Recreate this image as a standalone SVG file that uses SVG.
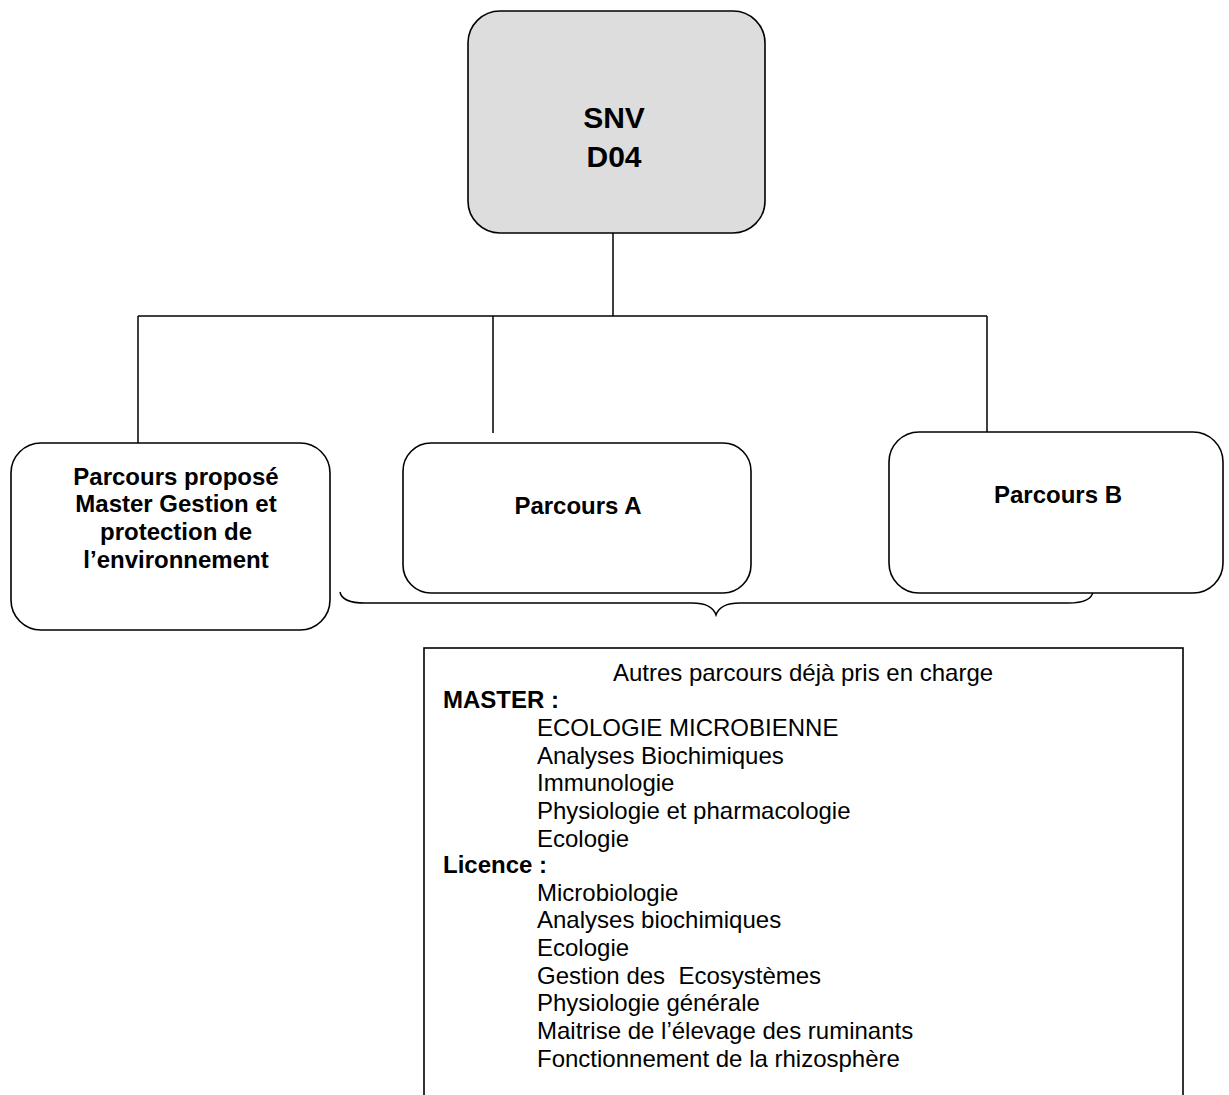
<svg xmlns="http://www.w3.org/2000/svg" width="1229" height="1095" viewBox="0 0 1229 1095">
<style>
.box{fill:#ffffff;stroke:#000;stroke-width:1.6}
.root{fill:#dddddd;stroke:#000;stroke-width:1.6}
.conn{fill:none;stroke:#000;stroke-width:1.5}
.b{font-family:"Liberation Sans",Arial,sans-serif;font-weight:bold;font-size:24px;fill:#000}
.r{font-family:"Liberation Sans",Arial,sans-serif;font-size:24px;fill:#000}
.big{font-size:30px}
</style>
<rect width="1229" height="1095" fill="#fff"/>
<g id="connectors">
<line class="conn" x1="613" y1="233" x2="613" y2="316"/>
<line class="conn" x1="138" y1="316" x2="987" y2="316"/>
<line class="conn" x1="138" y1="316" x2="138" y2="444"/>
<line class="conn" x1="493" y1="316" x2="493" y2="433"/>
<line class="conn" x1="987" y1="316" x2="987" y2="432"/>
<path class="conn" d="M340,592 Q342,603 365,603 L692,603 Q712,603 716,615 Q720,603 740,603 L1068,603 Q1092,603 1093,591"/>
</g>
<g id="snv">
<rect class="root" x="468" y="11" width="297" height="222" rx="32" ry="32"/>
<text class="b big" x="614" y="128" text-anchor="middle">SNV</text>
<text class="b big" x="614" y="167" text-anchor="middle">D04</text>
</g>
<g id="parcours-propose">
<rect class="box" x="11" y="443" width="319" height="187" rx="30" ry="30"/>
<text class="b" x="176" y="485" text-anchor="middle">Parcours proposé</text>
<text class="b" x="176" y="512" text-anchor="middle">Master Gestion et</text>
<text class="b" x="176" y="540" text-anchor="middle">protection de</text>
<text class="b" x="176" y="568" text-anchor="middle">l’environnement</text>
</g>
<g id="parcours-a">
<rect class="box" x="403" y="443" width="348" height="150" rx="28" ry="28"/>
<text class="b" x="578" y="514" text-anchor="middle">Parcours A</text>
</g>
<g id="parcours-b">
<rect class="box" x="889" y="432" width="334" height="161" rx="30" ry="30"/>
<text class="b" x="1058" y="503" text-anchor="middle">Parcours B</text>
</g>
<g id="autres-parcours">
<rect class="box" x="424" y="648" width="759" height="460"/>
<text class="r" x="803" y="681" text-anchor="middle">Autres parcours déjà pris en charge</text>
<text class="b" x="443" y="708">MASTER :</text>
<text class="r" x="537" y="736">ECOLOGIE MICROBIENNE</text>
<text class="r" x="537" y="764">Analyses Biochimiques</text>
<text class="r" x="537" y="791">Immunologie</text>
<text class="r" x="537" y="819">Physiologie et pharmacologie</text>
<text class="r" x="537" y="847">Ecologie</text>
<text class="b" x="443" y="873">Licence :</text>
<text class="r" x="537" y="901">Microbiologie</text>
<text class="r" x="537" y="928">Analyses biochimiques</text>
<text class="r" x="537" y="956">Ecologie</text>
<text class="r" x="537" y="984" xml:space="preserve">Gestion des  Ecosystèmes</text>
<text class="r" x="537" y="1011">Physiologie générale</text>
<text class="r" x="537" y="1039">Maitrise de l’élevage des ruminants</text>
<text class="r" x="537" y="1067">Fonctionnement de la rhizosphère</text>
</g>
</svg>
